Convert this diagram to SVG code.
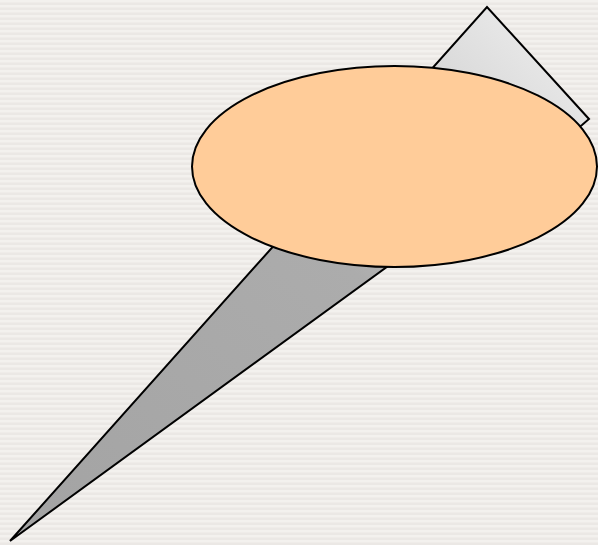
<svg xmlns="http://www.w3.org/2000/svg" width="598" height="545" viewBox="0 0 598 545">
<defs>
<pattern id="stripes" width="8" height="5" patternUnits="userSpaceOnUse">
<rect width="8" height="5" fill="#f3f1ee"/>
<rect y="2.5" width="8" height="2.5" fill="#ebe8e5"/>
</pattern>
<linearGradient id="wedge" x1="0" y1="1" x2="1" y2="0">
<stop offset="0" stop-color="#a3a3a3"/>
<stop offset="0.55" stop-color="#acacac"/>
<stop offset="0.8" stop-color="#d8d8d8"/>
<stop offset="1" stop-color="#f2f2f2"/>
</linearGradient>
<style>
.outline{stroke:#000;stroke-width:2;stroke-linejoin:miter}
</style>
</defs>
<rect width="598" height="545" fill="url(#stripes)"/>
<g id="callout">
<polygon class="outline" points="10,541 487,7 589,119 582,125" fill="url(#wedge)"/>
<ellipse class="outline" cx="394.5" cy="166.5" rx="202.5" ry="100.5" fill="#ffcc99"/>
</g>
</svg>
